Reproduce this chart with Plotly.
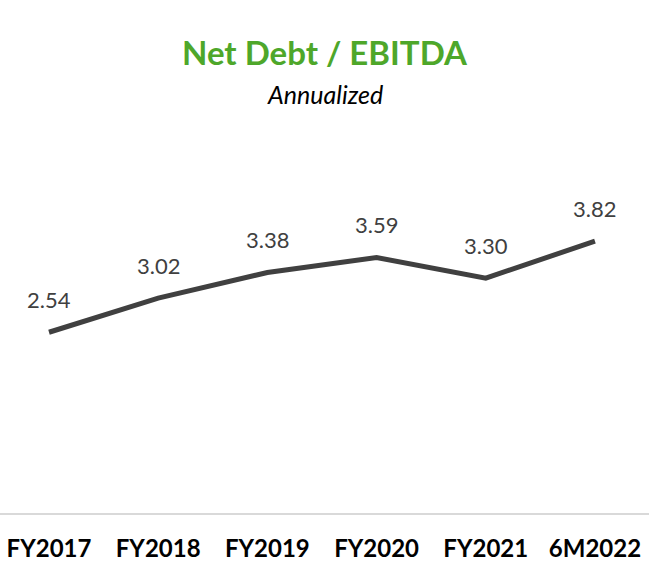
import plotly.graph_objects as go

categories = ["FY2017", "FY2018", "FY2019", "FY2020", "FY2021", "6M2022"]
net_debt_ebitda = [2.54, 3.02, 3.38, 3.59, 3.30, 3.82]
value_labels = [f"{v:.2f}" for v in net_debt_ebitda]

FONT = "Lato"

fig = go.Figure()
fig.add_trace(go.Scatter(
    x=categories,
    y=net_debt_ebitda,
    mode="lines",
    line=dict(color="#404040", width=5),
    hoverinfo="skip",
))

annotations = [
    dict(text="<b>Net Debt / EBITDA</b>", xref="paper", yref="paper", x=0.5, y=1,
         xanchor="center", yanchor="middle", yshift=+34, showarrow=False,
         font=dict(family=FONT, size=33, color="#4ea72a")),
    dict(text="<i>Annualized</i>", xref="paper", yref="paper", x=0.5, y=1,
         xanchor="center", yanchor="middle", yshift=-8, showarrow=False,
         font=dict(family=FONT, size=25, color="#000000")),
]
for cat, val, lab in zip(categories, net_debt_ebitda, value_labels):
    annotations.append(dict(
        x=cat, y=val, text=lab, showarrow=False, xanchor="center", yanchor="middle",
        yshift=33, font=dict(family=FONT, size=22, color="#404040"),
    ))

fig.update_layout(
    width=649, height=561,
    margin=dict(l=0, r=0, t=86, b=48, autoexpand=False),
    paper_bgcolor="white", plot_bgcolor="white",
    showlegend=False,
    annotations=annotations,
    xaxis=dict(
        type="category",
        range=[-0.4487, 5.495],
        automargin=False,
        showgrid=False, zeroline=False,
        showline=True, linecolor="#d9d9d9", linewidth=2,
        ticks="", ticklabelstandoff=13,
        tickfont=dict(family=FONT, size=24, color="#000000", weight="bold"),
    ),
    yaxis=dict(
        range=[0, 6], visible=False, showgrid=False, zeroline=False,
        automargin=False,
    ),
)

fig.write_html("out.html")
